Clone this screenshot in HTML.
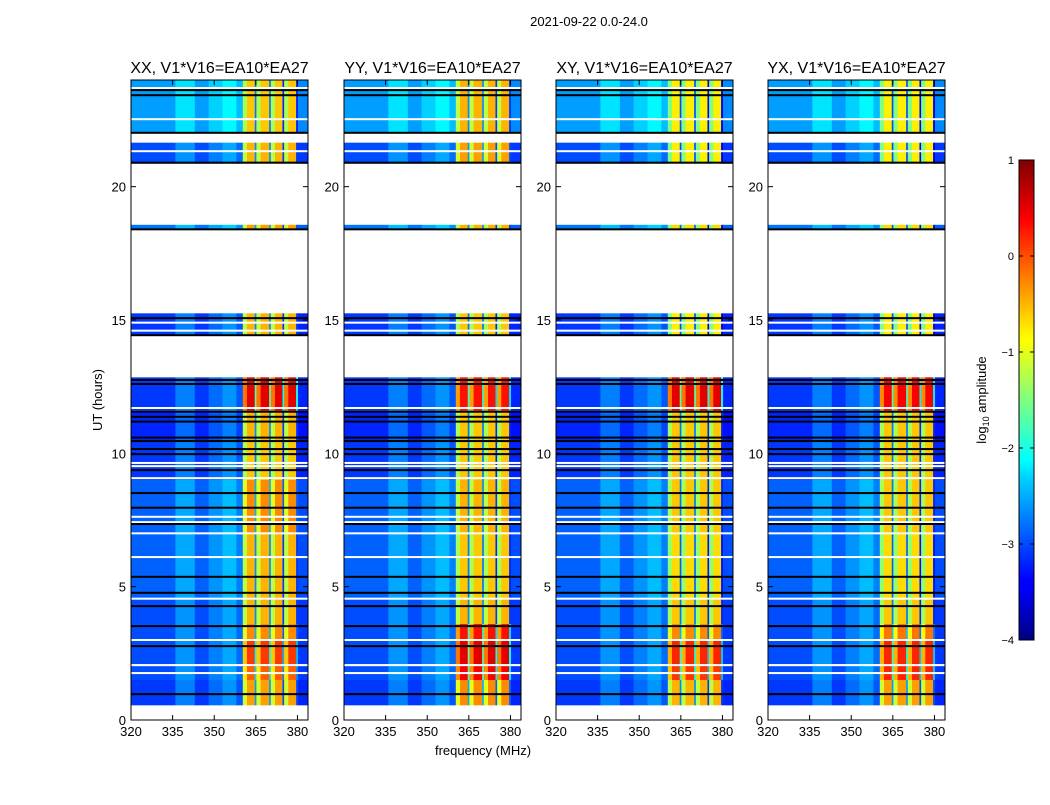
<!DOCTYPE html>
<html><head><meta charset="utf-8"><style>
body{margin:0;background:#fff;font-family:"Liberation Sans",sans-serif}
svg text{font-family:"Liberation Sans",sans-serif}
</style></head><body>
<svg id="fig" width="1050" height="800" xmlns="http://www.w3.org/2000/svg">
<defs><linearGradient id="jet" x1="0" y1="1" x2="0" y2="0">
<stop offset="0" stop-color="#00007f"/><stop offset="0.11" stop-color="#0000ff"/><stop offset="0.125" stop-color="#0000ff"/>
<stop offset="0.34" stop-color="#00d4ff"/><stop offset="0.375" stop-color="#00ffff"/><stop offset="0.5" stop-color="#7fff7f"/>
<stop offset="0.625" stop-color="#ffff00"/><stop offset="0.66" stop-color="#ffe000"/><stop offset="0.875" stop-color="#ff0000"/><stop offset="1" stop-color="#7f0000"/>
</linearGradient></defs>
<text x="589" y="26" font-size="13" text-anchor="middle">2021-09-22 0.0-24.0</text>
<text x="102" y="400" font-size="13" text-anchor="middle" transform="rotate(-90 102 400)">UT (hours)</text>
<text x="483" y="755" font-size="13" text-anchor="middle">frequency (MHz)</text>
<g id="panels"></g>
<g>
<rect x="1019" y="160" width="15" height="480" fill="url(#jet)" stroke="#000"/>
<g id="cbticks"></g>
<text x="986" y="400" font-size="13" text-anchor="middle" transform="rotate(-90 986 400)">log<tspan font-size="9" dy="3">10</tspan><tspan dy="-3"> amplitude</tspan></text>
</g>
</svg>
<script>
const panelTitles=["XX, V1*V16=EA10*EA27","YY, V1*V16=EA10*EA27","XY, V1*V16=EA10*EA27","YX, V1*V16=EA10*EA27"];
const panelLeft=[131,344,556,768];
const colEdges=[320,336,343,348,353,358,360.3,361.8,364.6,365.2,366.7,369.8,370.4,371.9,374.6,375.2,376.7,379.5,380.2,383.8];
const colKind=["bg","bg","bg","bg","bg","bg","hot","hot","hot","hot","hot","hot","hot","hot","hot","hot","hot","hot","bg"];
const colOffset=[-3.0,-2.65,-3.0,-2.75,-2.55,-2.85,-0.7,0,-2.2,-0.7,0,-2.2,-0.7,0,-2.6,-0.7,0,-2.6,-3.1];
const rowStart=[0.55,1.5,2.0,3.0,3.6,4.5,7.0,9.0,10.5,11.6,14.43,18.4,20.86,22.0];
const rowEnd=[1.5,2.0,3.0,3.6,4.5,7.0,9.0,10.5,11.6,12.85,15.25,18.57,21.65,24.0];
const hotXX=[-0.4,-0.1,0.1,-0.3,-0.5,-0.5,-0.3,-0.6,-0.5,0.5,-0.5,-0.4,-0.5,-0.6];
const hotYY=[-0.3,0.4,0.5,0.3,-0.5,-0.6,-0.5,-0.6,-0.6,0.3,-0.6,-0.5,-0.4,-0.5];
const hotXY=[-0.5,0.1,0.2,-0.3,-0.6,-0.7,-0.6,-0.6,-0.6,0.5,-0.8,-0.7,-0.8,-0.8];
const hotYX=[-0.4,0.2,0.2,-0.2,-0.6,-0.7,-0.6,-0.6,-0.6,0.4,-0.8,-0.7,-0.8,-0.8];
const bgRow=[-0.1,0,0,0,0,0.1,0.1,-0.1,-0.2,-0.1,-0.1,0.2,0,0.4];
const blackLines=[0.97,2.77,3.52,4.27,4.77,5.37,7.35,7.96,8.51,9.37,9.97,10.16,10.46,10.59,11.19,11.37,11.56,12.6,12.75,14.43,15.07,18.4,20.9,22.02,23.43,23.62];
const whiteLines=[1.76,2.06,3.0,4.55,6.11,7.0,7.42,7.62,9.07,9.52,9.64,11.7,14.6,14.9,21.33,22.53,23.7];
const xTicks=[320,335,350,365,380];
const yTicks=[0,5,10,15,20];
const cbTicks=[1,0,-1,-2,-3,-4];
const hotAll=[hotXX,hotYY,hotXY,hotYX];
const PW=177,TOP=80,BOT=720,FMIN=320,FMAX=383.8,TMAX=24;
const NS="http://www.w3.org/2000/svg";
function xs(f,p){return panelLeft[p]+(f-FMIN)/(FMAX-FMIN)*PW;}
function ys(t){return BOT-(t/TMAX)*(BOT-TOP);}
function jet(v){let x=Math.max(0,Math.min(1,(v+4)/5));
 const r=Math.max(0,Math.min(1,1.5-Math.abs(4*x-3))),g=Math.max(0,Math.min(1,1.5-Math.abs(4*x-2))),b=Math.max(0,Math.min(1,1.5-Math.abs(4*x-1)));
 return `rgb(${Math.round(r*255)},${Math.round(g*255)},${Math.round(b*255)})`;}
function mk(tag,attrs,parent){const e=document.createElementNS(NS,tag);for(const k in attrs)e.setAttribute(k,attrs[k]);parent.appendChild(e);return e;}
const G=document.getElementById('panels');
for(let p=0;p<4;p++){
 const g=mk('g',{},G);
 
 
 const t=mk('text',{x:panelLeft[p]+PW/2,y:73,'font-size':16,'text-anchor':'middle'},g);
 t.textContent=panelTitles[p];
 
 
 for(let r=0;r<rowStart.length;r++){
  for(let c=0;c<colKind.length;c++){
   const v=colKind[c]==='hot'?hotAll[p][r]+colOffset[c]:colOffset[c]+bgRow[r];
   const x0=xs(colEdges[c],p),x1=xs(colEdges[c+1],p),y0=ys(rowEnd[r]),y1=ys(rowStart[r]);
   const rc=mk('rect',{x:x0,y:y0,width:x1-x0+0.3,height:y1-y0,fill:jet(v)},g);
   
   
  }
 }
 for(const h of whiteLines){const l=mk('rect',{x:panelLeft[p],y:ys(h)-1,width:PW,height:2,fill:'#fff'},g);
  
  }
 for(const h of blackLines){const l=mk('rect',{x:panelLeft[p],y:ys(h)-1,width:PW,height:2,fill:'#000'},g);
  
  }
 mk('rect',{x:panelLeft[p],y:TOP,width:PW,height:BOT-TOP,fill:'none',stroke:'#000','stroke-width':1},g);
 for(const f of xTicks){const x=xs(f,p);
  mk('line',{x1:x,y1:BOT,x2:x,y2:BOT-5,stroke:'#000'},g);mk('line',{x1:x,y1:TOP,x2:x,y2:TOP+5,stroke:'#000'},g);
  const tl=mk('text',{x:x,y:BOT+16,'font-size':13,'text-anchor':'middle'},g);tl.textContent=f;
  
  }
 for(const h of yTicks){const y=ys(h);
  mk('line',{x1:panelLeft[p],y1:y,x2:panelLeft[p]+5,y2:y,stroke:'#000'},g);mk('line',{x1:panelLeft[p]+PW,y1:y,x2:panelLeft[p]+PW-5,y2:y,stroke:'#000'},g);
  const tl=mk('text',{x:panelLeft[p]-5,y:y+5,'font-size':13,'text-anchor':'end'},g);tl.textContent=h;
  
  }
}
const CB=document.getElementById('cbticks');
for(const v of cbTicks){const y=160+(1-v)/5*480;
 mk('line',{x1:1034,y1:y,x2:1030,y2:y,stroke:'#000'},CB);mk('line',{x1:1019,y1:y,x2:1023,y2:y,stroke:'#000'},CB);
 const tl=mk('text',{x:1014,y:y+4,'font-size':11,'text-anchor':'end'},CB);tl.textContent=v<0?'\u2212'+(-v):v;
 
 }
</script>
</body></html>
